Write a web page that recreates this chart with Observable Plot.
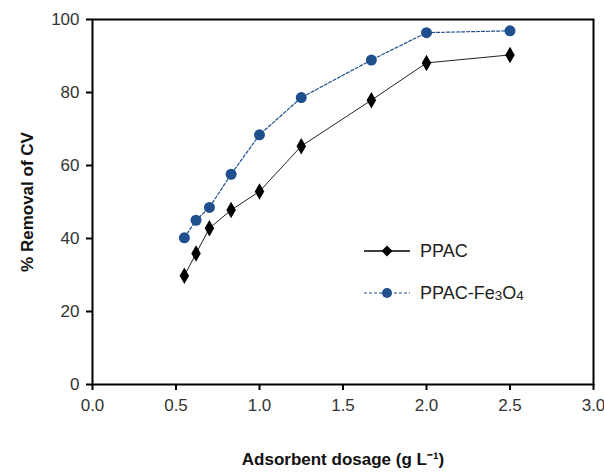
<!DOCTYPE html>
<html>
<head>
<meta charset="utf-8">
<script src="https://cdn.jsdelivr.net/npm/d3@7"></script>
<script src="https://cdn.jsdelivr.net/npm/@observablehq/plot@0.6"></script>
<style>
  html, body { margin: 0; padding: 0; background: #fff; }
  #wrap { position: relative; width: 604px; height: 475px; font-family: "Liberation Sans", Arial, sans-serif; }
  #legend { position: absolute; left: 362px; top: 236px; font-size: 18px; color: #222; }
  #legend .row { display: flex; align-items: center; height: 30px; margin-bottom: 12px; }
  #legend svg { margin-right: 8px; }
  sub { font-size: 0.75em; vertical-align: -0.05em; }
</style>
</head>
<body>
<div id="wrap">
  <div id="chart"></div>
  <div id="legend"></div>
</div>
<script>
const dosage = [0.55, 0.62, 0.70, 0.83, 1.0, 1.25, 1.67, 2.0, 2.5];
const ppac = [29.8, 35.9, 42.8, 47.8, 52.9, 65.3, 77.9, 88.1, 90.3];
const ppacFe = [40.2, 45.0, 48.5, 57.6, 68.4, 78.6, 88.9, 96.4, 96.9];
const xTicks = [0, 0.5, 1.0, 1.5, 2.0, 2.5, 3.0];
const yTicks = [0, 20, 40, 60, 80, 100];

const blue = "#1f4f8c";
const dA = dosage.map((x, i) => ({x, y: ppac[i]}));
const dB = dosage.map((x, i) => ({x, y: ppacFe[i]}));

const chart = Plot.plot({
  width: 604,
  height: 475,
  marginLeft: 92,
  marginTop: 19,
  marginRight: 11,
  marginBottom: 91,
  style: {fontFamily: "'Liberation Sans', Arial, sans-serif", fontSize: "17px", color: "#333", background: "#fff"},
  x: {domain: [0, 3], ticks: xTicks, tickFormat: d3.format(".1f"), tickSize: 6, tickPadding: 8,
      label: "Adsorbent dosage (g L\u207B\u00B9)", labelAnchor: "center", labelOffset: 80, labelArrow: "none"},
  y: {domain: [0, 100], ticks: yTicks, tickFormat: d => d, tickSize: 6, tickPadding: 7,
      label: "% Removal of CV", labelAnchor: "center", labelOffset: 72, labelArrow: "none"},
  marks: [
    Plot.frame({stroke: "#000", strokeWidth: 2}),
    Plot.line(dB, {x: "x", y: "y", stroke: blue, strokeWidth: 1.2, strokeDasharray: "3,2"}),
    Plot.dot(dB, {x: "x", y: "y", r: 5.5, fill: blue, stroke: "none"}),
    Plot.line(dA, {x: "x", y: "y", stroke: "#222", strokeWidth: 1}),
    Plot.dot(dA, {x: "x", y: "y", symbol: "diamond", r: 5, fill: "#000", stroke: "none"})
  ]
});
document.getElementById("chart").appendChild(chart);

// style axes: bold titles, black tick marks
const svg = d3.select(chart);
svg.selectAll("[aria-label$='axis label'] text, [aria-label$='axis label']").style("font-weight", "bold").style("fill", "#111");
svg.selectAll("[aria-label$='tick'] path, [aria-label$='tick']").attr("stroke", "#000").attr("stroke-width", 2);

// legend
const legend = document.getElementById("legend");
legend.innerHTML = `
  <div class="row"><svg width="50" height="14"><line x1="2" y1="7" x2="48" y2="7" stroke="#000" stroke-width="1.3"/><path d="M25,1.5 L30.5,7 L25,12.5 L19.5,7 Z" fill="#000"/></svg><span>PPAC</span></div>
  <div class="row"><svg width="50" height="14"><line x1="2" y1="7" x2="48" y2="7" stroke="${blue}" stroke-width="1.2" stroke-dasharray="3,2"/><circle cx="25" cy="7" r="5" fill="${blue}"/></svg><span>PPAC-Fe<sub>3</sub>O<sub>4</sub></span></div>`;
</script>
</body>
</html>
